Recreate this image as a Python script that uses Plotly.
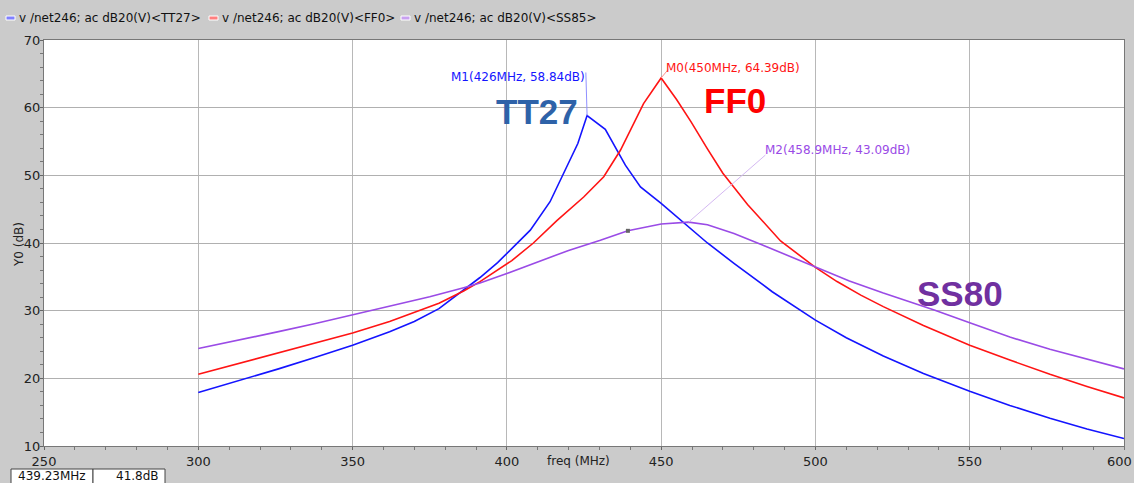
import plotly.graph_objects as go

# ---- data ----
tt27_f = [300, 313, 326, 338, 350, 362, 370, 378, 386, 391.3, 397, 400, 407.6, 414, 420, 423, 426,
          431.9, 438.4, 443.3, 450, 457.3, 465, 473.6, 486, 500, 510, 522, 535, 550, 563, 576, 588, 600]
tt27_db = [17.9, 19.6, 21.4, 23.1, 24.9, 26.9, 28.4, 30.3, 33.0, 34.9, 37.1, 38.5, 41.9, 46.1, 51.8, 54.7, 58.84,
           56.8, 51.5, 48.3, 45.85, 43.0, 40.0, 37.0, 32.8, 28.6, 26.0, 23.3, 20.7, 18.1, 16.0, 14.1, 12.5, 11.1]

ff0_f = [300, 313, 326, 338, 350, 362, 370, 378, 386, 391.3, 401.6, 408.6, 416.2, 424.9, 431.4, 436.8, 444.3,
         450, 455, 459.7, 465, 470, 478, 488.7, 500, 507, 514.7, 522, 535, 550, 563, 576, 588, 600]
ff0_db = [20.6, 22.2, 23.8, 25.2, 26.7, 28.4, 29.7, 31.1, 32.9, 34.3, 37.4, 40.0, 43.3, 46.8, 49.8, 53.7, 60.6,
          64.39, 61.2, 57.9, 53.9, 50.3, 45.7, 40.3, 36.4, 34.3, 32.3, 30.6, 27.8, 24.9, 22.7, 20.6, 18.8, 17.1]

ss80_f = [300, 313, 326, 338, 350, 362, 375, 386, 391.3, 400, 410, 420, 430.3, 439.2, 450, 458.9,
          465, 473.6, 484.4, 500, 511, 522, 538.5, 550, 563, 576, 588, 600]
ss80_db = [24.4, 25.6, 26.9, 28.1, 29.4, 30.7, 32.05, 33.4, 34.1, 35.5, 37.2, 38.9, 40.4, 41.8, 42.8, 43.09,
           42.7, 41.4, 39.4, 36.4, 34.4, 32.6, 30.1, 28.2, 26.1, 24.3, 22.8, 21.4]

legend_names = ["v /net246; ac dB20(V)<TT27>", "v /net246; ac dB20(V)<FF0>", "v /net246; ac dB20(V)<SS85>"]
x_ticks = [250, 300, 350, 400, 450, 500, 550, 600]
y_ticks = [10, 20, 30, 40, 50, 60, 70]

markers = [  # name, freq, dB, label
    ("M1", 426, 58.84, "M1(426MHz, 58.84dB)"),
    ("M0", 450, 64.39, "M0(450MHz, 64.39dB)"),
    ("M2", 458.9, 43.09, "M2(458.9MHz, 43.09dB)"),
]
cursor_f, cursor_db = 439.23, 41.8
cursor_labels = ["439.23MHz", "41.8dB"]
corner_labels = ["TT27", "FF0", "SS80"]

BLUE, RED, PURPLE = "#1414ff", "#ff1414", "#9a4be6"

W, H = 1134, 483
L, R, T, B = 44, 10, 40, 37
PW, PH = W - L - R, H - T - B


def px_x(px):
    return (px - L) / PW


def px_y(py):
    return 1 - (py - T) / PH


fig = go.Figure()
for f, d, c in [(tt27_f, tt27_db, BLUE), (ff0_f, ff0_db, RED), (ss80_f, ss80_db, PURPLE)]:
    fig.add_trace(go.Scatter(x=f, y=d, mode="lines", line=dict(color=c, width=1.6), showlegend=False))

fig.add_trace(go.Scatter(x=[cursor_f], y=[cursor_db], mode="markers",
                         marker=dict(symbol="square", size=4, color="#666666"), showlegend=False))

font_ui = "DejaVu Sans"

annotations = []
shapes = []

# marker labels with leader lines
mk_cfg = [
    (BLUE, "#9090ff", 403.7, 64.5, 425.6, 65.2),
    (RED, "#ff9090", 473.2, 65.9, 452.2, 65.6),
    ("#9a4be6", "#d4b8f2", 507.2, 53.7, 483.8, 53.0),
]
for (name, mf, md, lab), (tc, lc, tx, ty, lx, ly) in zip(markers, mk_cfg):
    annotations.append(dict(x=tx, y=ty, xref="x", yref="y", text=lab, showarrow=False,
                            font=dict(family=font_ui, size=12, color=tc)))
    shapes.append(dict(type="line", xref="x", yref="y", x0=mf, y0=md, x1=lx, y1=ly,
                       line=dict(color=lc, width=1)))

# big corner labels
for lab, col, x, y in zip(corner_labels, ["#2e62a8", "#ff0000", "#7030a0"],
                          [409.8, 473.9, 546.9], [59.4, 61.1, 32.6]):
    annotations.append(dict(x=x, y=y, xref="x", yref="y", text="<b>%s</b>" % lab, showarrow=False,
                            font=dict(family="Liberation Sans", size=35, color=col)))

# top legend
leg_x = [6, 209, 401]
for name, c, lx in zip(legend_names, ["#8080ff", "#ff8080", "#c8a0f0"], leg_x):
    shapes.append(dict(type="rect", xref="paper", yref="paper",
                       x0=px_x(lx), x1=px_x(lx + 9), y0=px_y(20), y1=px_y(16),
                       line=dict(color="white", width=1), fillcolor=c))
    annotations.append(dict(x=px_x(lx + 11), y=px_y(18), xref="paper", yref="paper", text=name,
                            showarrow=False, xanchor="left", yanchor="middle",
                            font=dict(family=font_ui, size=12, color="#111111")))

# axis titles
annotations.append(dict(x=px_x(10), y=px_y(245), xref="paper", yref="paper", text="Y0 (dB)",
                        textangle=-90, showarrow=False, xanchor="left", yanchor="middle",
                        font=dict(family=font_ui, size=12, color="#222222")))
annotations.append(dict(x=px_x(578), y=px_y(470), xref="paper", yref="paper", text="freq (MHz)",
                        showarrow=False, font=dict(family=font_ui, size=12, color="#222222")))

# last x tick label, kept just inside the right edge
annotations.append(dict(x=px_x(1134), y=px_y(452), xref="paper", yref="paper", text=str(x_ticks[-1]),
                        showarrow=False, xanchor="right", yanchor="top",
                        font=dict(family=font_ui, size=13, color="#222")))

# cursor readout boxes
for (x0, x1), txt, xa, tx in zip([(11, 93), (93, 165)], cursor_labels, ["center", "right"], [52, 161]):
    shapes.append(dict(type="rect", xref="paper", yref="paper", x0=px_x(x0), x1=px_x(x1),
                       y0=px_y(486), y1=px_y(469), line=dict(color="#444444", width=1), fillcolor="white"))
    annotations.append(dict(x=px_x(tx), y=px_y(476), xref="paper", yref="paper", text=txt, showarrow=False,
                            xanchor=xa, yanchor="middle", font=dict(family=font_ui, size=12, color="#111111")))

fig.update_layout(
    width=W, height=H,
    margin=dict(l=L, r=R, t=T, b=B, autoexpand=False),
    paper_bgcolor="#cbcbcb", plot_bgcolor="white",
    annotations=annotations, shapes=shapes,
    showlegend=False,
)
fig.update_xaxes(range=[250, 600], tickvals=x_ticks[:-1], ticks="outside", ticklen=3, tickcolor="#666",
                 showgrid=True, gridcolor="#b8b8b8", gridwidth=1.2, showline=True, linecolor="#777",
                 linewidth=1, mirror=True, zeroline=False, automargin=False,
                 minor=dict(dtick=10, ticks="outside", ticklen=3, tickcolor="#777", showgrid=False),
                 tickfont=dict(family=font_ui, size=13, color="#222"))
fig.update_yaxes(range=[10, 70], tickvals=y_ticks, ticks="outside", ticklen=3, tickcolor="#666",
                 showgrid=True, gridcolor="#b0b0b0", gridwidth=1.2, showline=True, linecolor="#777",
                 linewidth=1, mirror=True, zeroline=False, automargin=False, ticklabelstandoff=-3,
                 minor=dict(dtick=2, ticks="outside", ticklen=3, tickcolor="#777", showgrid=False),
                 tickfont=dict(family=font_ui, size=13, color="#222"))

fig.write_html("out.html", config={"displayModeBar": False},
               post_script="document.body.style.margin='0';document.body.style.overflow='hidden';")
